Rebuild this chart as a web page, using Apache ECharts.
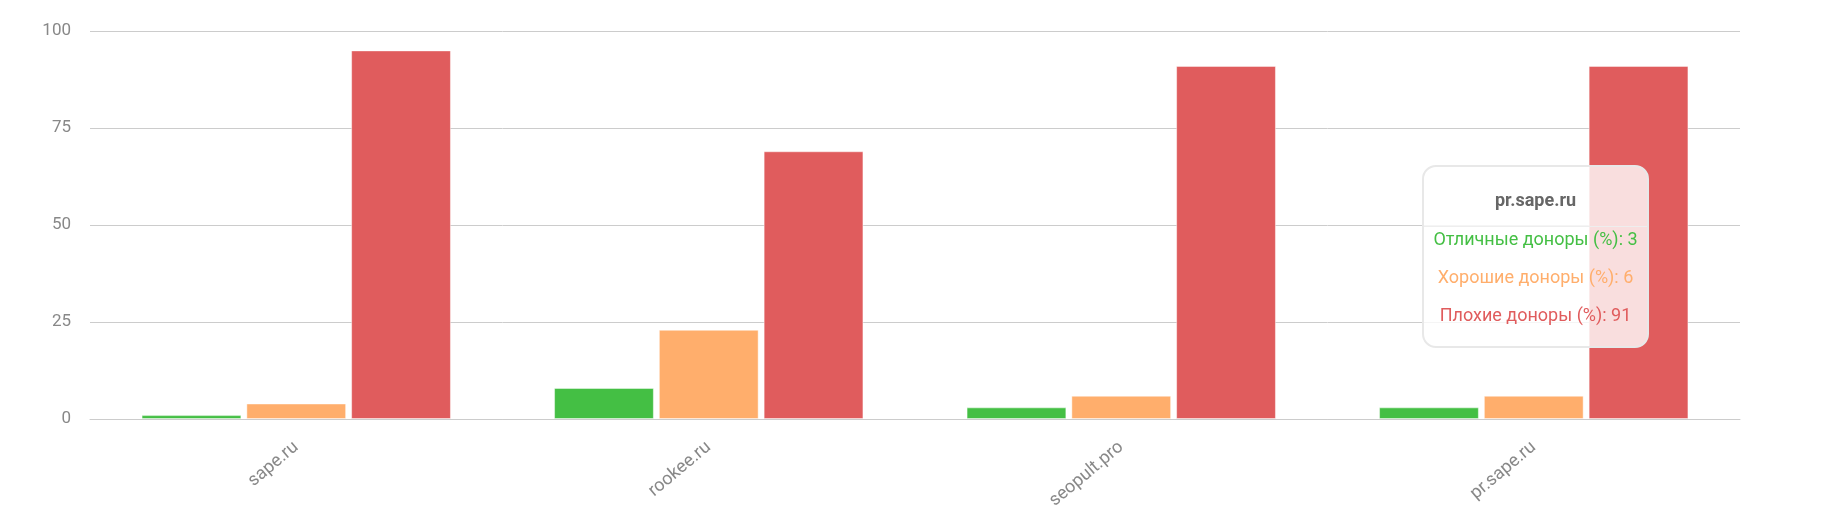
<!DOCTYPE html>
<html>
<head>
<meta charset="utf-8">
<script src="https://cdn.jsdelivr.net/npm/echarts@6/dist/echarts.min.js"></script>
<style>
    html, body { margin: 0; padding: 0; background: #fff; }
    #chart { width: 1827px; height: 517px; }
</style>
</head>
<body>
<div id="chart"></div>
<script>
    // data
    var categories = ['sape.ru', 'rookee.ru', 'seopult.pro', 'pr.sape.ru'];
    var excellent = [1, 8, 3, 3];
    var good = [4, 23, 6, 6];
    var bad = [95, 69, 91, 91];
    var seriesNames = ['Отличные доноры (%)', 'Хорошие доноры (%)', 'Плохие доноры (%)'];
    var yTicks = [0, 25, 50, 75, 100];

    var colors = ['#44bf44', '#ffae6c', '#e05c5d'];
    var font = 'Roboto, sans-serif';

    function barSeries(name, data, i) {
        return {
            name: name,
            type: 'bar',
            data: data,
            barGap: '5%',
            barCategoryGap: '25%',
            emphasis: {disabled: true},
            itemStyle: {color: colors[i], borderColor: 'rgba(255,255,255,0.45)', borderWidth: 1}
        };
    }

    var option = {
        animation: false,
        textStyle: {fontFamily: font},
        color: colors,
        grid: {left: 90, right: 87, top: 31, bottom: 98},
        tooltip: {
            trigger: 'axis',
            alwaysShowContent: true,
            transitionDuration: 0,
            axisPointer: {type: 'none'},
            position: [1422, 165],
            padding: 0,
            backgroundColor: 'rgba(255,255,255,0.8)',
            borderColor: '#e8e8e8',
            borderWidth: 2,
            extraCssText: 'border-radius:14px;box-shadow:none;',
            formatter: function (params) {
                var s = '<div style="width:223px;font-family:Roboto,sans-serif;font-size:18px;text-align:center;">';
                s += '<div style="font-weight:bold;color:#666;line-height:22px;padding:22px 0 15px;border-bottom:1px solid #eee;">' + params[0].name + '</div>';
                params.forEach(function (p, k) {
                    s += '<div style="color:' + p.color + ';line-height:22px;padding-top:' + (k === 0 ? 1 : 16) + 'px;">' + p.seriesName + ': ' + p.value + '</div>';
                });
                s += '<div style="height:20px"></div></div>';
                return s;
            }
        },
        xAxis: {
            type: 'category',
            data: categories,
            axisTick: {show: false},
            axisLine: {lineStyle: {color: '#cccccc', width: 1}},
            axisLabel: {rotate: 40, margin: 26, fontSize: 18, color: '#888', fontFamily: font}
        },
        yAxis: {
            type: 'value',
            min: yTicks[0],
            max: yTicks[yTicks.length - 1],
            interval: 25,
            axisLine: {show: false},
            axisTick: {show: false},
            splitLine: {lineStyle: {color: '#cccccc'}},
            axisLabel: {margin: 19, fontSize: 17, color: '#888', fontFamily: font}
        },
        series: [
            barSeries(seriesNames[0], excellent, 0),
            barSeries(seriesNames[1], good, 1),
            barSeries(seriesNames[2], bad, 2)
        ]
    };

    var myChart = echarts.init(document.getElementById('chart'));
    myChart.setOption(option);
    myChart.dispatchAction({type: 'showTip', seriesIndex: 0, dataIndex: 3});
</script>
</body>
</html>
